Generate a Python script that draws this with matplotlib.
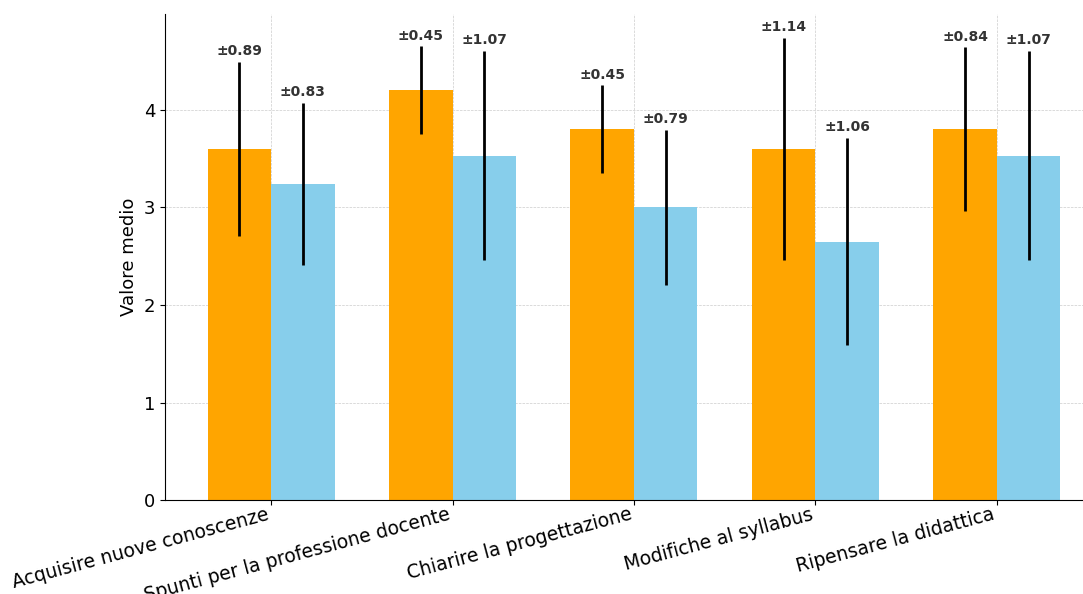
import matplotlib.pyplot as plt
import numpy as np

categories = ["Acquisire nuove conoscenze", "Spunti per la professione docente",
              "Chiarire la progettazione", "Modifiche al syllabus", "Ripensare la didattica"]
mean_a = [3.6, 4.2, 3.8, 3.6, 3.8]
std_a = [0.89, 0.45, 0.45, 1.14, 0.84]
mean_b = [3.24, 3.53, 3.0, 2.65, 3.53]
std_b = [0.83, 1.07, 0.79, 1.06, 1.07]

x = np.arange(len(categories))
w = 0.35

fig = plt.figure(figsize=(10.83, 5.94), dpi=100)
ax = fig.add_axes([0.1524, 0.158, 0.866, 0.818])

ax.bar(x - w/2, mean_a, w, color='#FFA500')
ax.bar(x + w/2, mean_b, w, color='#87CEEB')
ax.errorbar(x - w/2, mean_a, yerr=std_a, fmt='none', ecolor='black', elinewidth=2)
ax.errorbar(x + w/2, mean_b, yerr=std_b, fmt='none', ecolor='black', elinewidth=2)

# etichette delle deviazioni standard sopra le barre di errore
for xs, m, s in [(x - w/2, mean_a, std_a), (x + w/2, mean_b, std_b)]:
    for xi, mi, si in zip(xs, m, s):
        ax.text(xi, mi + si + 0.04, f"±{si:.2f}", ha='center', va='bottom',
                fontsize=10, fontweight='bold', color='#333333')

ax.set_xticks(x)
ax.set_xticklabels(categories, rotation=15, ha='right', fontsize=13.5)
ax.tick_params(axis='x', pad=0)
ax.tick_params(axis='y', labelsize=13)
ax.set_ylabel("Valore medio", fontsize=13)
ax.set_xlim(-0.585, 4.585)
ax.set_ylim(0, 4.98)
ax.set_yticks([0, 1, 2, 3, 4])
ax.grid(True, linestyle='--', linewidth=0.5, color='#cccccc')
ax.set_axisbelow(True)
ax.spines['top'].set_visible(False)
ax.spines['right'].set_visible(False)

fig.savefig("out.png", dpi=100)
